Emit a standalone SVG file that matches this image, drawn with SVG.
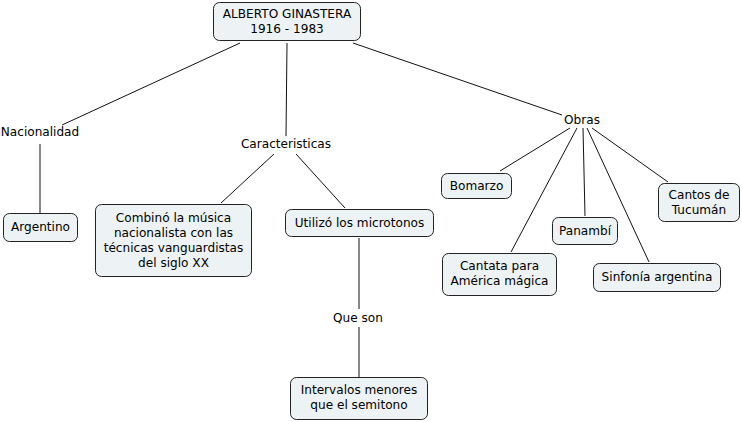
<svg xmlns="http://www.w3.org/2000/svg" width="742" height="422" viewBox="0 0 742 422">
<style>
.n{fill:#edf3f4;stroke:#222;stroke-width:1}
text{font-family:"DejaVu Sans",Verdana,sans-serif;font-size:12.1px;fill:#000;text-anchor:middle}
.c line{stroke:#111;stroke-width:1}
</style>
<rect width="742" height="422" fill="#fff"/>
<g class="c" id="connectors">
<line x1="240" y1="43" x2="62" y2="125"/>
<line x1="40" y1="144" x2="40" y2="213"/>
<line x1="287" y1="43" x2="286" y2="136"/>
<line x1="353" y1="43" x2="562" y2="115"/>
<line x1="274" y1="154" x2="221" y2="203"/>
<line x1="296" y1="154" x2="345" y2="208"/>
<line x1="359" y1="238" x2="359" y2="309"/>
<line x1="359" y1="327" x2="359" y2="377"/>
<line x1="570" y1="128" x2="500" y2="171"/>
<line x1="577" y1="128" x2="511" y2="252"/>
<line x1="583" y1="128" x2="585" y2="216"/>
<line x1="587" y1="128" x2="649" y2="262"/>
<line x1="592" y1="128" x2="668" y2="182"/>
</g>
<g id="root"><rect class="n" x="213.5" y="2.5" width="147" height="38" rx="6"/><text x="287" y="18">ALBERTO GINASTERA</text><text x="287" y="33">1916 - 1983</text></g>
<g id="nacionalidad"><text x="40" y="136">Nacionalidad</text></g>
<g id="argentino"><rect class="n" x="3.5" y="213.5" width="74" height="28" rx="6"/><text x="40.5" y="231">Argentino</text></g>
<g id="caracteristicas"><text x="286" y="148">Caracteristicas</text></g>
<g id="combino"><rect class="n" x="95.5" y="204.5" width="156" height="72" rx="6"/><text x="173.5" y="222">Combinó la música</text><text x="173.5" y="237">nacionalista con las</text><text x="173.5" y="252">técnicas vanguardistas</text><text x="173.5" y="267">del siglo XX</text></g>
<g id="utilizo"><rect class="n" x="285.5" y="209.5" width="148" height="27" rx="6"/><text x="359.5" y="227">Utilizó los microtonos</text></g>
<g id="queson"><text x="358" y="322">Que son</text></g>
<g id="intervalos"><rect class="n" x="290.5" y="377.5" width="137" height="42" rx="6"/><text x="359" y="394">Intervalos menores</text><text x="359" y="409">que el semitono</text></g>
<g id="obras"><text x="582" y="124">Obras</text></g>
<g id="bomarzo"><rect class="n" x="441.5" y="173.5" width="70" height="25" rx="6"/><text x="476.5" y="190">Bomarzo</text></g>
<g id="cantos"><rect class="n" x="658.5" y="183.5" width="81" height="38" rx="6"/><text x="699" y="199">Cantos de</text><text x="699" y="214">Tucumán</text></g>
<g id="panambi"><rect class="n" x="552.5" y="217.5" width="65" height="27" rx="6"/><text x="585" y="235">Panambí</text></g>
<g id="cantata"><rect class="n" x="442.5" y="253.5" width="114" height="42" rx="6"/><text x="499.5" y="270">Cantata para</text><text x="499.5" y="285">América mágica</text></g>
<g id="sinfonia"><rect class="n" x="593.5" y="263.5" width="127" height="28" rx="6"/><text x="657" y="281">Sinfonía argentina</text></g>
</svg>
